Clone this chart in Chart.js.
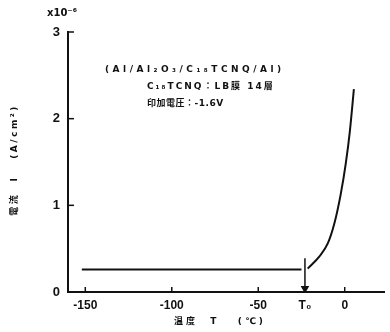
<!DOCTYPE html>
<html>
<head>
<meta charset="utf-8">
<script src="https://cdn.jsdelivr.net/npm/chart.js@4/dist/chart.umd.min.js"></script>
<style>
  body { margin: 0; background: #fff; }
  #wrap { width: 390px; height: 332px; position: relative; }
</style>
</head>
<body>
<div id="wrap"><canvas id="c"></canvas></div>
<script>
// values
var flatTemp = [-152, -25];
var flatCurrent = [0.26, 0.26];
var riseTemp = [-21.4, -14.6, -9.8, -6.0, -2.3, 0.6, 3.0, 5.3];
var riseCurrent = [0.27, 0.41, 0.56, 0.79, 1.13, 1.48, 1.86, 2.34];
var t0Temp = [-23, -23];
var t0Current = [0.39, 0.04];
var xTicks = [-150, -100, -50, -23, 0];
var yTicks = [0, 1, 2, 3];

var ink = '#111';
var txtFont = '"DejaVu Sans", "Noto Sans CJK JP"';

var pts = function(xs, ys) {
	return xs.map(function(v, i) { return {x: v, y: ys[i]}; });
};

var extras = {
	id: 'extras',
	afterDraw: function(chart) {
		var ctx = chart.ctx, x = chart.scales.x, y = chart.scales.y;
		ctx.save();
		ctx.strokeStyle = ink;
		ctx.lineWidth = 1.5;
		// inward ticks
		xTicks.forEach(function(v) {
			if (v === -23) return;
			var px = x.getPixelForValue(v);
			ctx.beginPath(); ctx.moveTo(px, y.bottom); ctx.lineTo(px, y.bottom - 5); ctx.stroke();
		});
		yTicks.forEach(function(v) {
			if (v === 0) return;
			var py = y.getPixelForValue(v);
			ctx.beginPath(); ctx.moveTo(x.left, py); ctx.lineTo(x.left + 6, py); ctx.stroke();
		});
		ctx.fillStyle = ink;
		ctx.textBaseline = 'middle';
		ctx.textAlign = 'left';
		ctx.font = 'bold 10px "DejaVu Sans"';
		ctx.fillText('x10⁻⁶', 47, 13);
		ctx.font = 'bold 9px ' + txtFont;
		ctx.letterSpacing = '3.5px';
		ctx.fillText('(Al/Al₂O₃/C₁₈TCNQ/Al)', 105, 70);
		ctx.letterSpacing = '2px';
		ctx.fillText('C₁₈TCNQ：LB膜 14層', 147, 87);
		ctx.letterSpacing = '0.5px';
		ctx.fillText('印加電圧：-1.6V', 147, 104);
		// axis titles
		ctx.textAlign = 'center';
		ctx.letterSpacing = '3px';
		ctx.fillText('温度  T   (℃)', 220, 322);
		ctx.translate(15, 160);
		ctx.rotate(-Math.PI / 2);
		ctx.letterSpacing = '2.5px';
		ctx.fillText('電流  I   (A/cm²)', 0, 0);
		ctx.restore();
	}
};

new Chart(document.getElementById('c'), {
	type: 'line',
	data: {
		datasets: [
			{data: pts(flatTemp, flatCurrent), borderColor: ink, borderWidth: 2, pointRadius: 0},
			{data: pts(riseTemp, riseCurrent), borderColor: ink, borderWidth: 2, pointRadius: 0, cubicInterpolationMode: 'monotone'},
			{data: pts(t0Temp, t0Current), borderColor: ink, backgroundColor: ink, borderWidth: 1.5,
				pointRadius: [0, 3.5], pointStyle: 'triangle', pointRotation: 180}
		]
	},
	options: {
		animation: false,
		responsive: true,
		maintainAspectRatio: false,
		layout: {padding: {top: 32, left: 0, right: 0, bottom: 0}},
		plugins: {legend: {display: false}, tooltip: {enabled: false}},
		scales: {
			x: {
				type: 'linear', min: -160, max: 23,
				afterBuildTicks: function(scale) { scale.ticks = xTicks.map(function(v) { return {value: v}; }); },
				afterFit: function(scale) { scale.height = 40; },
				grid: {drawOnChartArea: false, drawTicks: false},
				border: {color: ink, width: 2},
				ticks: {
					autoSkip: false, maxRotation: 0, padding: 6, color: ink,
					font: {family: 'Liberation Sans', size: 12, weight: 'bold'},
					callback: function(v) { return v === -23 ? 'T₀' : String(v); }
				}
			},
			y: {
				min: 0, max: 3,
				afterBuildTicks: function(scale) { scale.ticks = yTicks.map(function(v) { return {value: v}; }); },
				afterFit: function(scale) { scale.width = 68; },
				grid: {drawOnChartArea: false, drawTicks: false},
				border: {color: ink, width: 2},
				ticks: {padding: 8, color: ink, font: {family: 'Liberation Sans', size: 13, weight: 'bold'}}
			}
		}
	},
	plugins: [extras]
});
</script>
</body>
</html>
